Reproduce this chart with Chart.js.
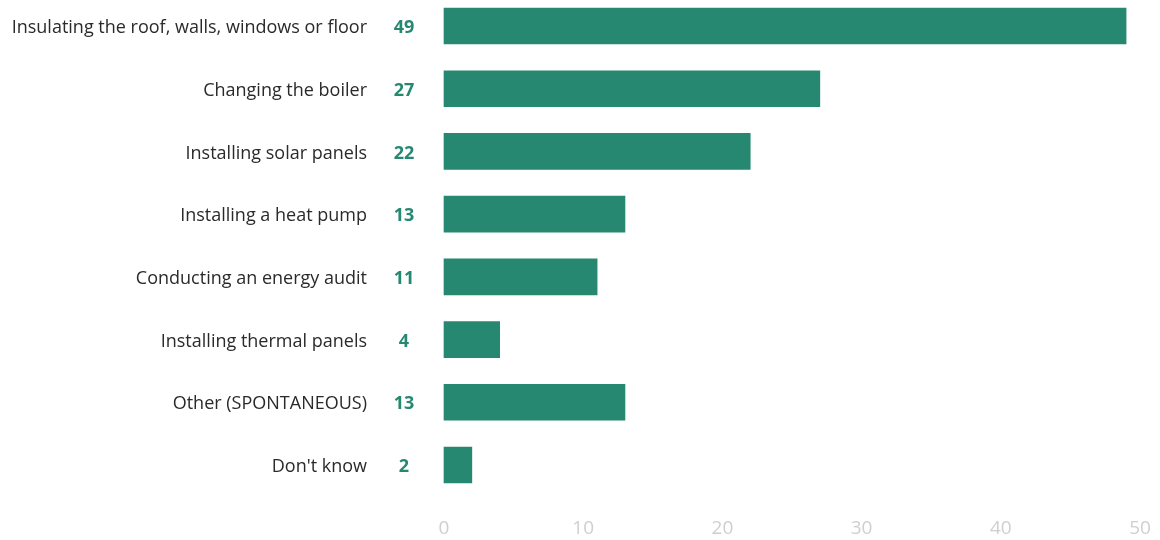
<!DOCTYPE html>
<html>
<head>
<meta charset="utf-8">
<script src="https://cdn.jsdelivr.net/npm/chart.js@4.4.0/dist/chart.umd.min.js"></script>
<style>
  html, body { margin: 0; padding: 0; background: #fff; }
  #wrap { width: 1160px; height: 540px; }
</style>
</head>
<body>
<div id="wrap"><canvas id="grafico"></canvas></div>
<script>
// categorias e valores
const categorias = [
    'Insulating the roof, walls, windows or floor',
    'Changing the boiler',
    'Installing solar panels',
    'Installing a heat pump',
    'Conducting an energy audit',
    'Installing thermal panels',
    'Other (SPONTANEOUS)',
    "Don't know"
]
const valores = [49, 27, 22, 13, 11, 4, 13, 2]
const ticksX = [0, 10, 20, 30, 40, 50]

const verde = '#268870'
const fonte = "'Open Sans', 'DejaVu Sans', sans-serif"

// zera o padding automatico dos eixos
function semPadding(scale) {
    scale.paddingLeft = 0
    scale.paddingRight = 0
    scale.paddingTop = 0
    scale.paddingBottom = 0
}

// rotulos de valor à esquerda das barras
const rotulosValor = {
    id: 'rotulosValor',
    afterDatasetsDraw(chart) {
        const ctx = chart.ctx
        const meta = chart.getDatasetMeta(0)
        ctx.save()
        ctx.font = 'bold 18px ' + fonte
        ctx.fillStyle = verde
        ctx.textAlign = 'center'
        ctx.textBaseline = 'middle'
        meta.data.forEach((barra, i) => {
            ctx.fillText(String(valores[i]), 404, barra.y + 2)
        })
        ctx.restore()
    }
}

new Chart(document.getElementById('grafico').getContext('2d'), {
    type: 'bar',
    data: {
        labels: categorias,
        datasets: [{
            data: valores,
            backgroundColor: verde,
            barThickness: 36,
            clip: false
        }]
    },
    options: {
        indexAxis: 'y',
        responsive: true,
        maintainAspectRatio: false,
        animation: false,
        layout: { autoPadding: false, padding: { top: 26, right: 20, left: 0, bottom: 0 } },
        plugins: {
            legend: { display: false },
            tooltip: { enabled: false }
        },
        scales: {
            y: {
                offset: false,
                grid: { display: false, drawTicks: false },
                border: { display: false },
                afterFit: (scale) => { scale.width = 444; semPadding(scale) },
                ticks: {
                    padding: 77,
                    labelOffset: 2,
                    color: '#2a2a2a',
                    font: { family: fonte, size: 18 }
                }
            },
            x: {
                min: 0,
                max: 50,
                grid: { display: false, drawTicks: false },
                border: { display: false },
                afterFit: (scale) => { scale.height = 75; semPadding(scale) },
                afterBuildTicks: (scale) => {
                    scale.ticks = ticksX.map(v => ({ value: v }))
                },
                ticks: {
                    padding: 52,
                    maxRotation: 0,
                    color: '#cfcfcf',
                    font: { family: fonte, size: 19 }
                }
            }
        }
    },
    plugins: [rotulosValor]
})
</script>
</body>
</html>
